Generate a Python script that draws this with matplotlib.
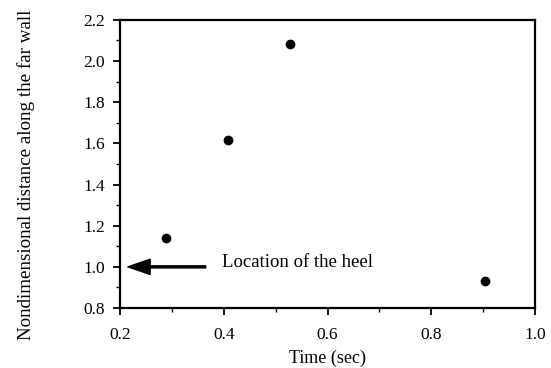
import matplotlib
matplotlib.use("Agg")
import matplotlib.pyplot as plt
from matplotlib.ticker import MultipleLocator

# data
time_sec = [0.289, 0.408, 0.528, 0.904]
distance = [1.14, 1.617, 2.083, 0.931]
heel_location = 1.0

plt.rcParams['font.family'] = ['Liberation Serif', 'DejaVu Serif']

fig = plt.figure(figsize=(5.51, 3.68), dpi=100)
ax = fig.add_axes([0.218, 0.163, 0.753, 0.783])

ax.plot(time_sec, distance, 'ko', markersize=6)

ax.annotate('', xy=(0.215, heel_location), xytext=(0.365, heel_location),
            arrowprops=dict(facecolor='k', edgecolor='k', width=1.5,
                            headwidth=11, headlength=16))
ax.text(0.397, heel_location + 0.02, 'Location of the heel', fontsize=13.5,
        va='center', ha='left')

ax.set_xlim(0.2, 1.0)
ax.set_ylim(0.8, 2.2)
ax.xaxis.set_major_locator(MultipleLocator(0.2))
ax.xaxis.set_minor_locator(MultipleLocator(0.1))
ax.yaxis.set_major_locator(MultipleLocator(0.2))
ax.yaxis.set_minor_locator(MultipleLocator(0.1))
ax.tick_params(which='major', length=5, width=1.3, labelsize=12.5, direction='out')
ax.tick_params(axis='x', which='major', pad=9)
ax.tick_params(axis='y', which='major', pad=6)
ax.tick_params(which='minor', length=3, width=1.0, direction='out')
for s in ax.spines.values():
    s.set_linewidth(1.6)

ax.set_xlabel('Time (sec)', fontsize=13)
ax.xaxis.set_label_coords(0.5, -0.145)
ax.set_ylabel('Nondimensional distance along the far wall', fontsize=13.7)
ax.yaxis.set_label_coords(-0.205, 0.462)

fig.savefig('out.png', dpi=100)
